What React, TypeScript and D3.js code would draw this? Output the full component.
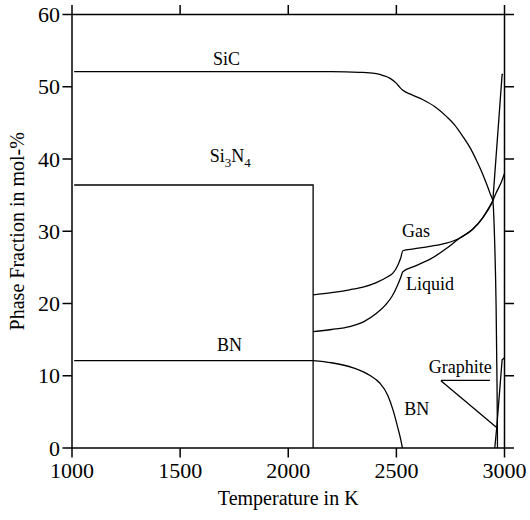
import React from 'react';
import * as d3 from 'd3';

const xTicks = [1000, 1500, 2000, 2500, 3000];
const yTicks = [0, 10, 20, 30, 40, 50, 60];

// [Temperature K, mol-%]
const sic: [number, number][] = [
  [1010, 52.1], [2200, 52.1], [2330, 52.0], [2400, 51.85], [2440, 51.55], [2469, 51.2],
  [2499, 50.5], [2515, 49.95], [2530, 49.5], [2570, 48.9], [2623, 48.2], [2680, 47.2],
  [2731, 45.9], [2770, 44.7], [2808, 43.1], [2840, 41.6], [2869, 39.9], [2895, 38.2],
  [2915, 36.7], [2935, 35.1], [2946, 34.2], [2955, 28], [2961, 20], [2965, 10],
  [2967, 3], [2967.5, 0],
];
const si3n4: [number, number][] = [[1010, 36.4], [2115, 36.4], [2115, 0]];
const bnFlat: [number, number][] = [[1010, 12.1], [2115, 12.1]];
const bnDrop: [number, number][] = [
  [2115, 12.1], [2200, 11.8], [2300, 11.1], [2380, 10.0], [2423, 9.0], [2460, 7.3],
  [2485, 5.2], [2505, 3.0], [2520, 1.2], [2528, 0],
];
const gas: [number, number][] = [
  [2115, 21.2], [2200, 21.5], [2284, 21.9], [2350, 22.3], [2407, 22.9], [2460, 23.7],
  [2484, 24.2], [2505, 25.2], [2520, 26.3], [2530, 27.3], [2580, 27.55], [2654, 27.9],
  [2731, 28.35], [2790, 29.0], [2854, 30.3], [2900, 31.9], [2940, 33.8], [2961, 35.3],
  [2984, 36.7], [3000, 38.0],
];
const liquid: [number, number][] = [
  [2115, 16.1], [2200, 16.4], [2284, 16.8], [2350, 17.5], [2407, 18.6], [2450, 19.8],
  [2480, 21.0], [2505, 22.5], [2520, 23.6], [2530, 24.4], [2580, 25.1], [2654, 26.1],
  [2731, 27.6], [2790, 29.0], [2854, 30.3], [2900, 31.9], [2946, 34.2],
];
const liquidSpike: [number, number][] = [[2946, 34.2], [2989, 51.7], [2993, 51.7]];
const graphite: [number, number][] = [[2955, 0], [2964, 2.8], [2989, 12.2], [3000, 12.5]];

const graphiteUnderline: [number, number][] = [[2706, 9.35], [2933, 9.35]];
const graphiteLeader: [number, number][] = [[2706, 9.3], [2965, 2.8]];

const labels = [
  { text: 'SiC', t: 1652, v: 53.0 },
  { text: 'Gas', t: 2526, v: 29.2 },
  { text: 'Liquid', t: 2545, v: 21.9 },
  { text: 'BN', t: 1670, v: 13.4 },
  { text: 'BN', t: 2536, v: 4.6 },
  { text: 'Graphite', t: 2650, v: 10.4 },
];
const si3n4Label = { t: 1637, v: 39.6 };

const W = 530;
const H = 520;
const FONT = '"Liberation Serif", "DejaVu Serif", serif';

export default function App() {
  const x = d3.scaleLinear().domain([1000, 3000]).range([72, 504.5]);
  const y = d3.scaleLinear().domain([0, 60]).range([448, 14.5]);
  const smooth = d3.line<[number, number]>().x(d => x(d[0])).y(d => y(d[1])).curve(d3.curveMonotoneX);
  const straight = d3.line<[number, number]>().x(d => x(d[0])).y(d => y(d[1]));

  const x0 = x(1000), x1 = x(3000), y0 = y(0), y1 = y(60);
  const tl = 9.5;

  return (
    <svg width={W} height={H} style={{ position: 'absolute', left: 0, top: 0, background: '#fff' }}
      fontFamily={FONT}>
      <rect x={0} y={0} width={W} height={H} fill="#fff" />
      {/* frame */}
      <g stroke="#000" strokeWidth={1.5} fill="none">
        <line x1={x0} y1={y1} x2={x1} y2={y1} />
        <line x1={x0} y1={y0} x2={x1} y2={y0} />
        <line x1={x0} y1={y0} x2={x0} y2={y1} />
        <line x1={x1} y1={y0} x2={x1} y2={y1} />
        {xTicks.map(t => (
          <g key={'xt' + t}>
            <line x1={x(t)} x2={x(t)} y1={y0} y2={y0 + tl} />
            <line x1={x(t)} x2={x(t)} y1={y1} y2={y1 - tl} />
          </g>
        ))}
        {yTicks.map(v => (
          <g key={'yt' + v}>
            <line x1={x0} x2={x0 - tl} y1={y(v)} y2={y(v)} />
            <line x1={x1} x2={x1 + tl} y1={y(v)} y2={y(v)} />
          </g>
        ))}
      </g>
      <g fontSize={22} fill="#000">
        {xTicks.map(t => (
          <text key={'xl' + t} x={x(t)} y={478} textAnchor="middle">{t}</text>
        ))}
        {yTicks.map(v => (
          <text key={'yl' + v} x={60} y={y(v) + 7.5} textAnchor="end">{v}</text>
        ))}
      </g>
      <g fontSize={20} fill="#000">
        <text x={(x0 + x1) / 2} y={505} textAnchor="middle">Temperature in K</text>
        <text transform={`translate(24, ${(y0 + y1) / 2}) rotate(-90)`} textAnchor="middle">
          Phase Fraction in mol-%
        </text>
      </g>
      {/* curves */}
      <g stroke="#000" strokeWidth={1.3} fill="none">
        <path d={smooth(sic) || ''} />
        <path d={straight(si3n4) || ''} />
        <path d={straight(bnFlat) || ''} />
        <path d={smooth(bnDrop) || ''} />
        <path d={smooth(gas) || ''} />
        <path d={smooth(liquid) || ''} />
        <path d={straight(liquidSpike) || ''} />
        <path d={straight(graphite) || ''} />
        <path d={straight(graphiteUnderline) || ''} />
        <path d={straight(graphiteLeader) || ''} />
      </g>
      <g fontSize={18} fill="#000">
        {labels.map((l, i) => (
          <text key={'lb' + i} x={x(l.t)} y={y(l.v)}>{l.text}</text>
        ))}
        <text x={x(si3n4Label.t)} y={y(si3n4Label.v)}>
          Si<tspan dy={5} fontSize={13}>3</tspan><tspan dy={-5}>N</tspan><tspan dy={5} fontSize={13}>4</tspan>
        </text>
      </g>
    </svg>
  );
}
